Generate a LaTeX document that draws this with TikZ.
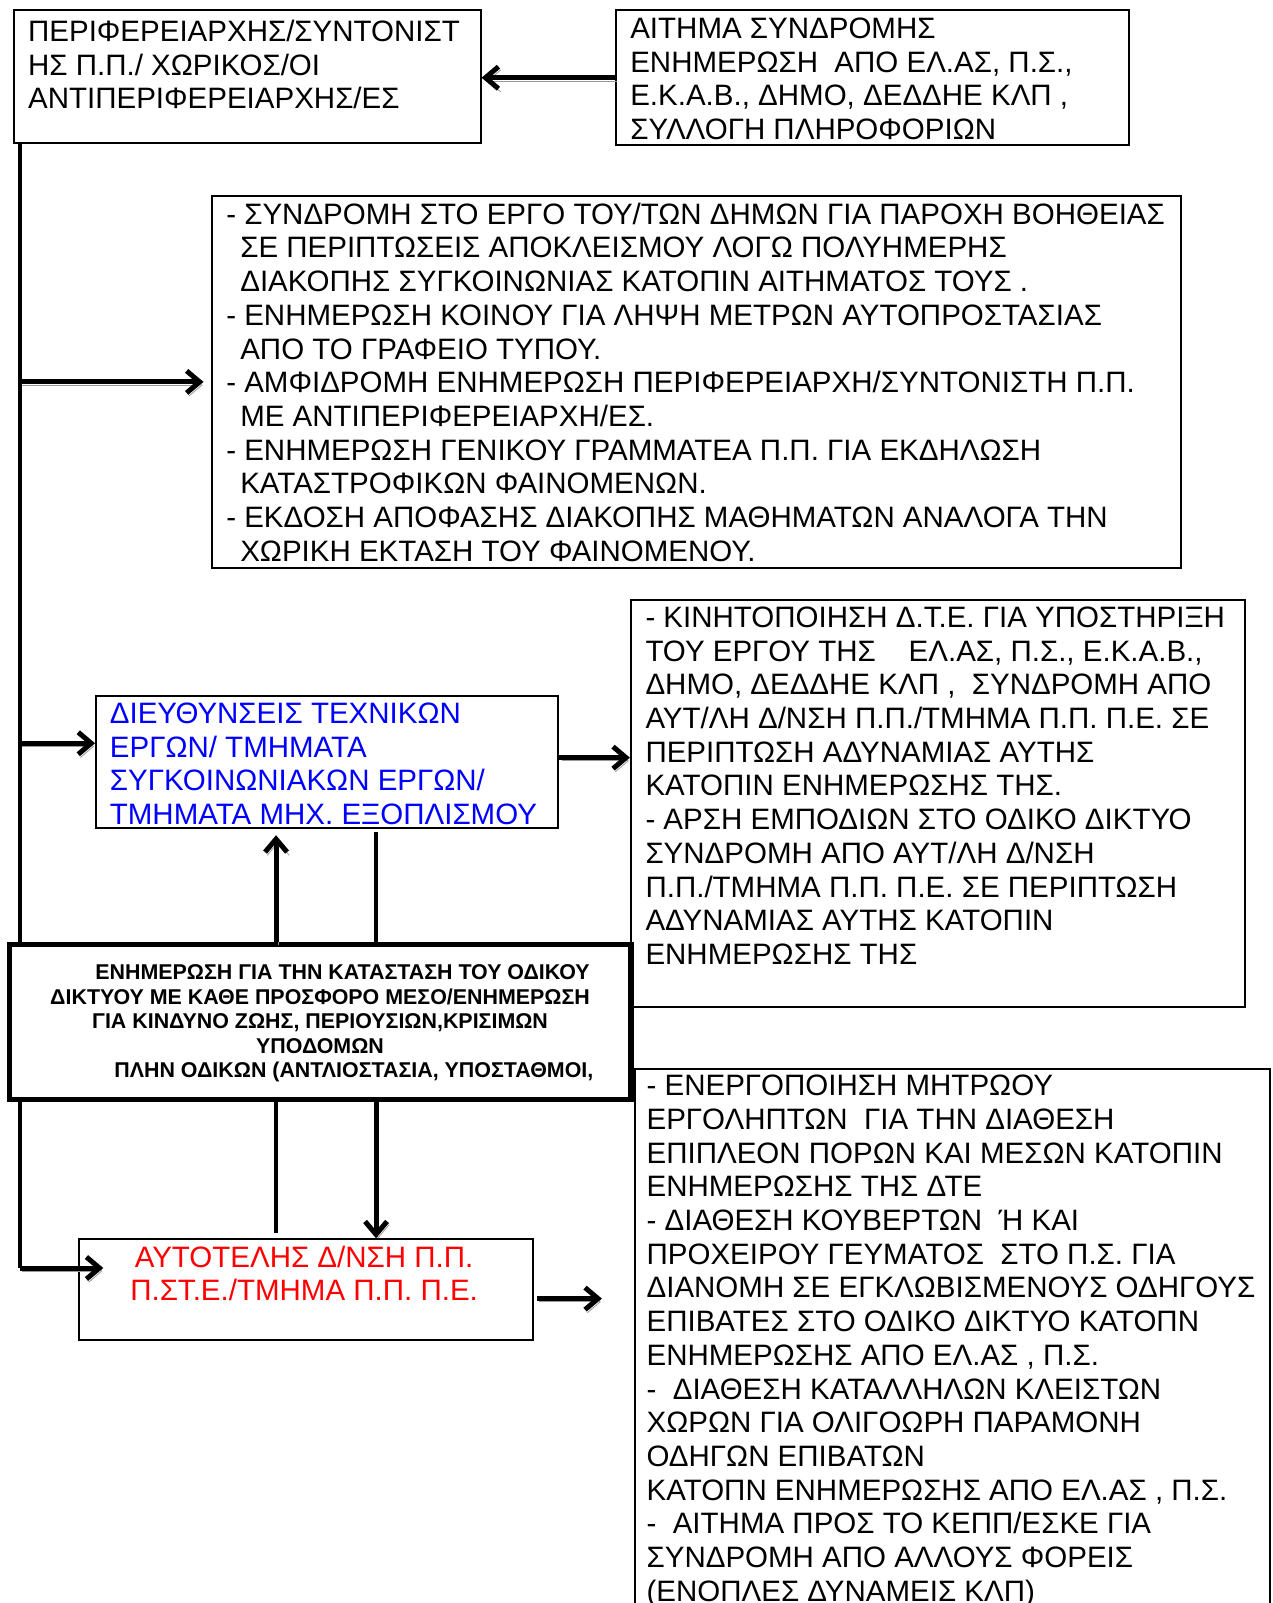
\documentclass[tikz,border=0pt]{standalone}
\usepackage{fontspec}
\setmainfont{Liberation Sans}
\usetikzlibrary{arrows.meta,positioning,fit}
\definecolor{dteblue}{RGB}{0,0,255}
\definecolor{civred}{RGB}{255,0,0}
\tikzset{
  box/.style={draw, line width=1pt, inner sep=0pt, fill=white},
  boldbox/.style={draw, line width=2.6pt, inner sep=0pt, fill=white},
  txt/.style={anchor=north west, inner sep=0pt, align=left, font=\fontsize{14.75}{16.85}\selectfont},
  boldtxt/.style={anchor=north, inner sep=0pt, align=center, font=\fontsize{10.7}{12.25}\selectfont\bfseries},
  spine/.style={line width=2.2pt},
  arrow/.style={line width=2.5pt, -{Straight Barb[length=6.5pt,width=11pt]},
    preaction={draw=black!40, transform canvas={shift={(1.1pt,-1.6pt)}}}},
}
\newcommand{\ind}{\hspace*{7pt}}

\begin{document}
\begin{tikzpicture}[x=0.5pt, y=-0.5pt]
\useasboundingbox (0,0) rectangle (1273,1603);

% Boxes
\node[box, fit={(14.3,10.2) (480.6,143.1)}] (lead) {};
\node[box, fit={(615.5,10.2) (1128.8,145.2)}] (req) {};
\node[box, fit={(211.7,196.3) (1181,567.5)}] (tasks) {};
\node[box, fit={(96.1,696.3) (558.3,828.2)}] (dte) {};
\node[box, fit={(630.9,600.2) (1245.4,1007.2)}] (mob) {};
\node[boldbox, fit={(9.2,944.8) (630.9,1099.2)}] (info) {};
\node[box, fit={(78.7,1239.3) (532.7,1339.5)}] (civ) {};
\node[box, fit={(635,1068.5) (1270,1640)}] (res) {};

% Texts
\node[txt] (leadtxt) at ([xshift=7.2pt,yshift=-5.2pt]lead.north west) {%
ΠΕΡΙΦΕΡΕΙΑΡΧΗΣ/ΣΥΝΤΟΝΙΣΤ\\
ΗΣ Π.Π./ ΧΩΡΙΚΟΣ/ΟΙ\\
ΑΝΤΙΠΕΡΙΦΕΡΕΙΑΡΧΗΣ/ΕΣ};

\node[txt] (reqtxt) at ([xshift=7.7pt,yshift=-4.1pt]req.north west) {%
ΑΙΤΗΜΑ ΣΥΝΔΡΟΜΗΣ\\
ΕΝΗΜΕΡΩΣΗ\ \ ΑΠΟ ΕΛ.ΑΣ, Π.Σ.,\\
Ε.Κ.Α.Β., ΔΗΜΟ, ΔΕΔΔΗΕ ΚΛΠ ,\\
ΣΥΛΛΟΓΗ ΠΛΗΡΟΦΟΡΙΩΝ};

\node[txt] (taskstxt) at ([xshift=7.6pt,yshift=-3.6pt]tasks.north west) {%
- ΣΥΝΔΡΟΜΗ ΣΤΟ ΕΡΓΟ ΤΟΥ/ΤΩΝ ΔΗΜΩΝ ΓΙΑ ΠΑΡΟΧΗ ΒΟΗΘΕΙΑΣ\\
\ind ΣΕ ΠΕΡΙΠΤΩΣΕΙΣ ΑΠΟΚΛΕΙΣΜΟΥ ΛΟΓΩ ΠΟΛΥΗΜΕΡΗΣ\\
\ind ΔΙΑΚΟΠΗΣ ΣΥΓΚΟΙΝΩΝΙΑΣ ΚΑΤΟΠΙΝ ΑΙΤΗΜΑΤΟΣ ΤΟΥΣ .\\
- ΕΝΗΜΕΡΩΣΗ ΚΟΙΝΟΥ ΓΙΑ ΛΗΨΗ ΜΕΤΡΩΝ ΑΥΤΟΠΡΟΣΤΑΣΙΑΣ\\
\ind ΑΠΟ ΤΟ ΓΡΑΦΕΙΟ ΤΥΠΟΥ.\\
- ΑΜΦΙΔΡΟΜΗ ΕΝΗΜΕΡΩΣΗ ΠΕΡΙΦΕΡΕΙΑΡΧΗ/ΣΥΝΤΟΝΙΣΤΗ Π.Π.\\
\ind ΜΕ ΑΝΤΙΠΕΡΙΦΕΡΕΙΑΡΧΗ/ΕΣ.\\
- ΕΝΗΜΕΡΩΣΗ ΓΕΝΙΚΟΥ ΓΡΑΜΜΑΤΕΑ Π.Π. ΓΙΑ ΕΚΔΗΛΩΣΗ\\
\ind ΚΑΤΑΣΤΡΟΦΙΚΩΝ ΦΑΙΝΟΜΕΝΩΝ.\\
- ΕΚΔΟΣΗ ΑΠΟΦΑΣΗΣ ΔΙΑΚΟΠΗΣ ΜΑΘΗΜΑΤΩΝ ΑΝΑΛΟΓΑ ΤΗΝ\\
\ind ΧΩΡΙΚΗ ΕΚΤΑΣΗ ΤΟΥ ΦΑΙΝΟΜΕΝΟΥ.};

\node[txt, text=dteblue] (dtetxt) at ([xshift=7.2pt,yshift=-3.6pt]dte.north west) {%
ΔΙΕΥΘΥΝΣΕΙΣ ΤΕΧΝΙΚΩΝ\\
ΕΡΓΩΝ/ ΤΜΗΜΑΤΑ\\
ΣΥΓΚΟΙΝΩΝΙΑΚΩΝ ΕΡΓΩΝ/\\
ΤΜΗΜΑΤΑ ΜΗΧ. ΕΞΟΠΛΙΣΜΟΥ};

\node[txt] (mobtxt) at ([xshift=7.6pt,yshift=-3.6pt]mob.north west) {%
- ΚΙΝΗΤΟΠΟΙΗΣΗ Δ.Τ.Ε. ΓΙΑ ΥΠΟΣΤΗΡΙΞΗ\\
ΤΟΥ ΕΡΓΟΥ ΤΗΣ\ \ \ \ ΕΛ.ΑΣ, Π.Σ., Ε.Κ.Α.Β.,\\
ΔΗΜΟ, ΔΕΔΔΗΕ ΚΛΠ ,\ \ ΣΥΝΔΡΟΜΗ ΑΠΟ\\
ΑΥΤ/ΛΗ Δ/ΝΣΗ Π.Π./ΤΜΗΜΑ Π.Π. Π.Ε. ΣΕ\\
ΠΕΡΙΠΤΩΣΗ ΑΔΥΝΑΜΙΑΣ ΑΥΤΗΣ\\
ΚΑΤΟΠΙΝ ΕΝΗΜΕΡΩΣΗΣ ΤΗΣ.\\
- ΑΡΣΗ ΕΜΠΟΔΙΩΝ ΣΤΟ ΟΔΙΚΟ ΔΙΚΤΥΟ\\
ΣΥΝΔΡΟΜΗ ΑΠΟ ΑΥΤ/ΛΗ Δ/ΝΣΗ\\
Π.Π./ΤΜΗΜΑ Π.Π. Π.Ε. ΣΕ ΠΕΡΙΠΤΩΣΗ\\
ΑΔΥΝΑΜΙΑΣ ΑΥΤΗΣ ΚΑΤΟΠΙΝ\\
ΕΝΗΜΕΡΩΣΗΣ ΤΗΣ};

\node[boldtxt] (infotxt) at ([yshift=-11.2pt]info.north) {%
\hspace*{22.5pt}ΕΝΗΜΕΡΩΣΗ ΓΙΑ ΤΗΝ ΚΑΤΑΣΤΑΣΗ ΤΟΥ ΟΔΙΚΟΥ\\
ΔΙΚΤΥΟΥ ΜΕ ΚΑΘΕ ΠΡΟΣΦΟΡΟ ΜΕΣΟ/ΕΝΗΜΕΡΩΣΗ\\
ΓΙΑ ΚΙΝΔΥΝΟ ΖΩΗΣ, ΠΕΡΙΟΥΣΙΩΝ,ΚΡΙΣΙΜΩΝ\\
ΥΠΟΔΟΜΩΝ\\
\hspace*{33.8pt}ΠΛΗΝ ΟΔΙΚΩΝ (ΑΝΤΛΙΟΣΤΑΣΙΑ, ΥΠΟΣΤΑΘΜΟΙ,};

\node[txt, anchor=north, align=center, text=civred] (civtxt) at ([xshift=-0.8pt,yshift=-3.6pt]civ.north) {%
ΑΥΤΟΤΕΛΗΣ Δ/ΝΣΗ Π.Π.\\
Π.ΣΤ.Ε./ΤΜΗΜΑ Π.Π. Π.Ε.};

\node[txt] (restxt) at ([xshift=6.1pt,yshift=-3.6pt]res.north west) {%
- ΕΝΕΡΓΟΠΟΙΗΣΗ ΜΗΤΡΩΟΥ\\
ΕΡΓΟΛΗΠΤΩΝ\ \ ΓΙΑ ΤΗΝ ΔΙΑΘΕΣΗ\\
ΕΠΙΠΛΕΟΝ ΠΟΡΩΝ ΚΑΙ ΜΕΣΩΝ ΚΑΤΟΠΙΝ\\
ΕΝΗΜΕΡΩΣΗΣ ΤΗΣ ΔΤΕ\\
- ΔΙΑΘΕΣΗ ΚΟΥΒΕΡΤΩΝ\ \ Ή ΚΑΙ\\
ΠΡΟΧΕΙΡΟΥ ΓΕΥΜΑΤΟΣ\ \ ΣΤΟ Π.Σ. ΓΙΑ\\
ΔΙΑΝΟΜΗ ΣΕ ΕΓΚΛΩΒΙΣΜΕΝΟΥΣ ΟΔΗΓΟΥΣ\\
ΕΠΙΒΑΤΕΣ ΣΤΟ ΟΔΙΚΟ ΔΙΚΤΥΟ ΚΑΤΟΠΝ\\
ΕΝΗΜΕΡΩΣΗΣ ΑΠΟ ΕΛ.ΑΣ , Π.Σ.\\
-\ \ ΔΙΑΘΕΣΗ ΚΑΤΑΛΛΗΛΩΝ ΚΛΕΙΣΤΩΝ\\
ΧΩΡΩΝ ΓΙΑ ΟΛΙΓΟΩΡΗ ΠΑΡΑΜΟΝΗ\\
ΟΔΗΓΩΝ ΕΠΙΒΑΤΩΝ\\
ΚΑΤΟΠΝ ΕΝΗΜΕΡΩΣΗΣ ΑΠΟ ΕΛ.ΑΣ , Π.Σ.\\
-\ \ ΑΙΤΗΜΑ ΠΡΟΣ ΤΟ ΚΕΠΠ/ΕΣΚΕ ΓΙΑ\\
ΣΥΝΔΡΟΜΗ ΑΠΟ ΑΛΛΟΥΣ ΦΟΡΕΙΣ\\
(ΕΝΟΠΛΕΣ ΔΥΝΑΜΕΙΣ ΚΛΠ)};

% Connections
\coordinate (sp) at ([xshift=3.3pt]lead.south west);
\coordinate (dterow) at ([yshift=9.5pt]dte.west);
\coordinate (civrow) at ([yshift=10.7pt]civ.west);

\draw[arrow] (req.west) -- (req.west -| lead.east);
\draw[spine] (sp) -- (sp |- info.north);
\draw[spine] (sp |- info.south) -- (sp |- civrow);
\draw[arrow] (sp |- tasks.west) -- ([xshift=-3.6pt]tasks.west);
\draw[arrow] (sp |- dterow) -- (dterow);
\draw[arrow] ([yshift=2.3pt]dte.east) -- ([yshift=2.3pt]dte.east -| mob.west);
\draw[arrow] ([xshift=-22pt]info.north) -- ([xshift=-22pt,yshift=-3pt]info.north |- dte.south);
\draw[spine] ([xshift=28pt]info.north) -- ++(0,-110);
\draw[spine] ([xshift=-22pt]info.south) -- ++(0,131);
\draw[arrow] ([xshift=28pt]info.south) -- ([xshift=28pt]info.south |- civ.north);
\draw[arrow] (sp |- civrow) -- ([xshift=12.8pt]civrow);
\draw[arrow] ([xshift=1.6pt,yshift=-4.6pt]civ.east) -- ++(65,0);
\end{tikzpicture}
\end{document}
